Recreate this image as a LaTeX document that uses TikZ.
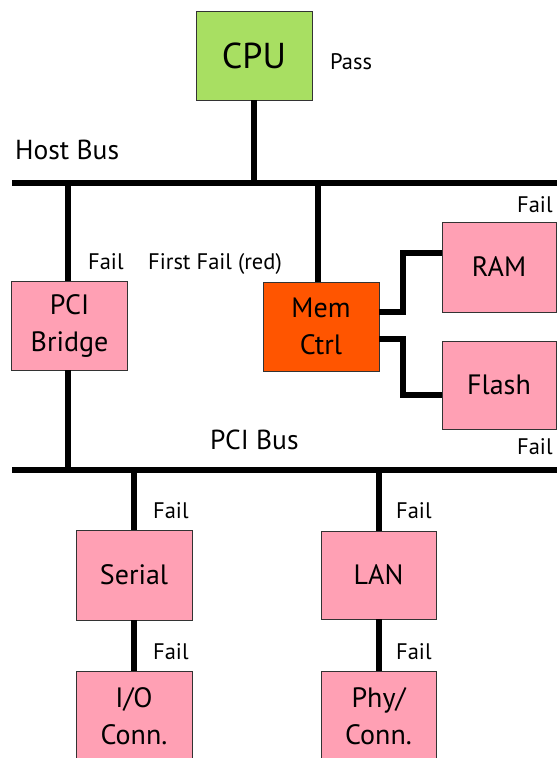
\documentclass[tikz,border=0pt]{standalone}
\usepackage{fontspec}
\setmainfont{PT Sans}
\definecolor{cpugreen}{HTML}{A8DF62}
\definecolor{pinkbox}{HTML}{FFA0B4}
\definecolor{redbox}{HTML}{FF5500}
\begin{document}
\begin{tikzpicture}[x=1pt,y=-1pt,
  box/.style={draw=black!80,line width=0.9pt,minimum width=116pt,minimum height=89pt,inner sep=0pt,align=center,font=\fontsize{28}{37}\selectfont},
  wire/.style={line width=6pt},
  lbl/.style={anchor=base west,inner sep=0pt,font=\fontsize{22.5}{25}\selectfont},
  buslbl/.style={anchor=base west,inner sep=0pt,font=\fontsize{27.5}{30}\selectfont}]
\useasboundingbox (0,0) rectangle (557,758);
\clip (0,0) rectangle (557,758);
% bus coordinates
\coordinate (hbL) at (12,183);
\coordinate (hbR) at (560,183);
\coordinate (pbL) at (12,470);
\coordinate (pbR) at (560,470);
% boxes
\node[box,fill=cpugreen,font=\fontsize{36}{40}\selectfont] (cpu) at (254,55.5) {CPU};
\node[box,fill=pinkbox] (bridge) at (69.5,325.5) {PCI\\Bridge};
\node[box,fill=redbox] (mem) at (321,326.5) {Mem\\Ctrl};
\node[box,fill=pinkbox,minimum width=114pt,minimum height=90pt] (ram) at (499,267) {RAM};
\node[box,fill=pinkbox,minimum width=114pt,minimum height=88pt] (flash) at (499,385) {Flash};
\node[box,fill=pinkbox,minimum height=90pt] (serial) at (134,575) {Serial};
\node[box,fill=pinkbox,minimum width=115pt,minimum height=88pt] (lan) at (378.5,575) {LAN};
\node[box,fill=pinkbox,minimum height=90pt] (io) at (134,716) {I/O\\Conn.};
\node[box,fill=pinkbox,minimum width=115pt,minimum height=90pt] (phy) at (378.5,716) {Phy/\\Conn.};
% buses
\draw[wire] (hbL) -- (hbR);
\draw[wire] (pbL) -- (pbR);
% connectors
\draw[wire] (cpu.south) -- (cpu.south |- hbL);
\draw[wire] ([xshift=-1.5pt]bridge.north) -- ([xshift=-1.5pt]bridge.north |- hbL);
\draw[wire] ([xshift=-1.5pt]bridge.south) -- ([xshift=-1.5pt]bridge.south |- pbL);
\draw[wire] ([xshift=-3pt]mem.north) -- ([xshift=-3pt]mem.north |- hbL);
\draw[wire] ([yshift=14.5pt]mem.east) -- ++(24,0) |- ([yshift=14pt]ram.west);
\draw[wire] ([yshift=-12.5pt]mem.east) -- ++(24,0) |- ([yshift=-10pt]flash.west);
\draw[wire] (serial.north) -- (serial.north |- pbL);
\draw[wire] (lan.north) -- (lan.north |- pbL);
\draw[wire] (serial.south) -- (io.north);
\draw[wire] (lan.south) -- (phy.north);
% labels
\node[lbl] (pass) at (330,69) {Pass};
\node[buslbl] (hostbus) at (15,159) {Host Bus};
\node[buslbl] (pcibus) at (210,449) {PCI Bus};
\node[lbl] (f1) at (88,269) {Fail};
\node[lbl] (ff) at (148,269) {First Fail (red)};
\node[lbl] (f2) at (517,212) {Fail};
\node[lbl] (f3) at (517,454) {Fail};
\node[lbl] (f4) at (153,518) {Fail};
\node[lbl] (f5) at (153,659) {Fail};
\node[lbl] (f6) at (396,518) {Fail};
\node[lbl] (f7) at (396,659) {Fail};
\end{tikzpicture}
\end{document}
